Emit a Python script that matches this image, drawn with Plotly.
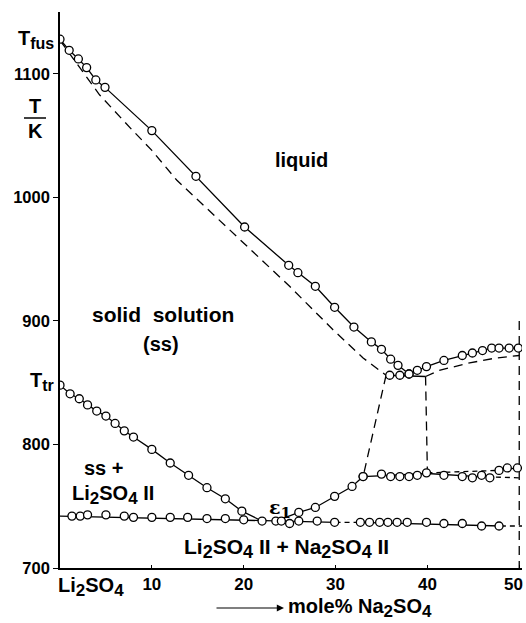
import plotly.graph_objects as go

# ---------------- data (mole% Na2SO4, T/K) ----------------
liq_left_x = [0, 1, 2, 2.9, 3.9, 4.9, 10, 14.8, 20.1, 24.9, 25.9, 27.8, 29.9, 32, 33.9, 35, 36, 36.8, 38]
liq_left_T = [1128, 1119, 1112, 1105, 1095, 1089, 1054, 1017, 976, 945, 939, 928, 911, 895, 883, 877, 869, 864, 857]
liq_right_x = [38, 38.9, 39.9, 41.8, 43.8, 44.9, 46, 47, 47.8, 48.9, 49.9]
liq_right_T = [857, 860, 863, 868, 872, 874, 876, 878, 878, 878, 878]

per_line_x = [35.5, 39.8]
per_line_T = [856, 855]
per_pts_x = [35.9, 37]
per_pts_T = [856, 856]

sol_left_x = [0, 4.3, 7.8, 10, 12.7, 20, 25, 29.7, 33, 35.5]
sol_left_T = [1127, 1083, 1055, 1038, 1014, 963, 928, 893, 870, 856]
sol_right_x = [39.8, 41.3, 44.6, 47.5, 50]
sol_right_T = [855, 860, 866, 870, 872]

conn1_x = [35.5, 33]
conn1_T = [856, 774]
conn2_x = [39.8, 40]
conn2_T = [855, 777]
edge_x = [50, 50]
edge_T = [900, 700]

solv_left_x = [0, 1.1, 2.1, 3, 4, 5, 6, 7, 8, 10, 12, 14, 16, 18, 19.8, 22]
solv_left_T = [848, 841, 837, 832, 827, 823, 817, 811, 806, 796, 785, 775, 765, 756, 746, 738]
solv_right_x = [23.5, 26, 27.8, 29.9, 31.8, 33]
solv_right_T = [738, 745, 749, 758, 766, 774]

eut_pts_x = [1.3, 2.2, 3, 5, 7, 8, 10, 12, 13.9, 16, 18, 20, 24.1, 25, 26, 28, 29.9,
             32.7, 33.7, 34.8, 35.7, 36.7, 37.8, 39.9, 41.8, 43.8, 45.9, 47.8]
eut_pts_T = [742, 742, 743, 743, 742, 741, 741, 741, 741, 740, 740, 739, 738, 736, 738, 738, 737,
             737, 737, 737, 737, 737, 737, 737, 736, 736, 734, 734]
eut_solid1_x = [0, 30]
eut_solid1_T = [742, 737]
eut_dash1_x = [30, 32.7]
eut_dash1_T = [737, 737]
eut_solid2_x = [32.7, 48]
eut_solid2_T = [737, 734]
eut_dash2_x = [48, 50.3]
eut_dash2_T = [734, 734]

tr_pts_x = [33, 35, 36, 37, 38, 38.9, 39.9, 41.8, 43.8, 44.9, 45.9, 46.8, 47.8, 48.7, 49.8]
tr_pts_T = [774, 776, 774, 774, 774, 775, 777, 775, 774, 773, 775, 773, 779, 781, 781]
tr_solid_x = [33, 40, 45.5]
tr_solid_T = [774, 776.5, 774]
tr_dash_low_x = [45.5, 50]
tr_dash_low_T = [774, 773]
tr_dash_up_x = [40, 47.8]
tr_dash_up_T = [777, 779]
tr_solid_up_x = [47.8, 49.8]
tr_solid_up_T = [779, 781]

y_ticks = [700, 800, 900, 1000, 1100]
x_ticks = [10, 20, 30, 40, 50]
x_ticktext = ["10", "20", "30", "40", "50"]

# ---------------- figure ----------------
W, H = 526, 623
ML, MR, MT, MB = 60, 4, 12, 55
PW, PH = W - ML - MR, H - MT - MB


def px(xp):
    return (xp - ML) / PW


def py(yp):
    return (H - MB - yp) / PH


def sub(s, size):
    return "<sub><span style='font-size:%dpx'>%s</span></sub>" % (size, s)


LBL = "Liberation Sans, Arial, sans-serif"
NARROW = "Liberation Sans, Arial, sans-serif"

fig = go.Figure()

LW = 1.3
DASH = "9px,6px"


def line(x, y, dash="solid"):
    fig.add_trace(go.Scatter(x=x, y=y, mode="lines",
                             line=dict(color="black", width=LW, dash=dash),
                             hoverinfo="skip", showlegend=False))


def pts(x, y):
    fig.add_trace(go.Scatter(x=x, y=y, mode="markers",
                             marker=dict(symbol="circle", size=8, color="white",
                                         line=dict(color="black", width=1.3)),
                             hoverinfo="skip", showlegend=False))


line(liq_left_x, liq_left_T)
line(liq_right_x, liq_right_T)
line(per_line_x, per_line_T)
line(sol_left_x, sol_left_T, DASH)
line(sol_right_x, sol_right_T, DASH)
line(conn1_x, conn1_T, DASH)
line(conn2_x, conn2_T, DASH)
line(edge_x, edge_T, DASH)
line(solv_left_x, solv_left_T)
line(solv_right_x, solv_right_T)
line(eut_solid1_x, eut_solid1_T)
line(eut_dash1_x, eut_dash1_T, "5px,4px")
line(eut_solid2_x, eut_solid2_T)
line(eut_dash2_x, eut_dash2_T, "5px,4px")
line(tr_solid_x, tr_solid_T)
line(tr_dash_low_x, tr_dash_low_T, "5px,4px")
line(tr_dash_up_x, tr_dash_up_T, "5px,4px")
line(tr_solid_up_x, tr_solid_up_T)

pts(liq_left_x, liq_left_T)
pts(liq_right_x, liq_right_T)
pts(per_pts_x, per_pts_T)
pts(solv_left_x, solv_left_T)
pts(solv_right_x, solv_right_T)
pts(eut_pts_x, eut_pts_T)
pts(tr_pts_x, tr_pts_T)

ann = []


def label(text, x, y, size=20, xref="x", yref="y", xanchor="center", yanchor="middle", family=LBL):
    ann.append(dict(text=text, x=x, y=y, xref=xref, yref=yref, showarrow=False,
                    xanchor=xanchor, yanchor=yanchor,
                    font=dict(family=family, size=size, color="black", weight="bold")))


# region labels (data coordinates)
label("liquid", 26.3, 1030)
label("solid&nbsp;&nbsp;solution", 11.2, 905, size=21)
label("(ss)", 11.0, 881)
label("ss +", 4.7, 781)
label("Li" + sub("2", 17) + "SO" + sub("4", 17) + " II", 5.8, 759)
label("ε" + sub("1", 15), 24.0, 748, size=19, family="DejaVu Serif, serif")
label("Li" + sub("2", 18) + "SO" + sub("4", 18) + " II + Na" + sub("2", 18) + "SO" + sub("4", 18) + " II",
      24.7, 716, size=21)

# outside labels (paper coordinates)
label("T" + sub("fus", 16), px(56), py(39), size=20, xref="paper", yref="paper", xanchor="right")
label("T" + sub("tr", 16), px(56), py(381), size=20, xref="paper", yref="paper", xanchor="right")
label("T", px(35), py(106), size=20, xref="paper", yref="paper")
label("K", px(35), py(131), size=20, xref="paper", yref="paper")
label("Li" + sub("2", 17) + "SO" + sub("4", 17), px(56), py(587), size=20, xref="paper", yref="paper",
      xanchor="left")
label("mole% Na" + sub("2", 17) + "SO" + sub("4", 17), px(286), py(608), size=20, xref="paper",
      yref="paper", xanchor="left")
# last x tick label sits at the right edge of the page: right-anchored so it stays inside
label(x_ticktext[-1], px(525), py(584), size=17, xref="paper", yref="paper", xanchor="right")

# arrow of the x title
ann.append(dict(x=px(284), y=py(608), xref="paper", yref="paper",
                ax=-69, ay=0, axref="pixel", ayref="pixel",
                showarrow=True, arrowhead=2, arrowsize=1.2, arrowwidth=1.2,
                arrowcolor="black", text=""))

fig.update_layout(
    width=W, height=H,
    margin=dict(l=ML, r=MR, t=MT, b=MB, autoexpand=False),
    paper_bgcolor="white", plot_bgcolor="white",
    annotations=ann,
    shapes=[dict(type="line", xref="paper", yref="paper",
                 x0=px(24), x1=px(46), y0=py(118), y1=py(118),
                 line=dict(color="black", width=1.5))],
    xaxis=dict(range=[0, 50.3], showgrid=False, zeroline=False, automargin=False,
               showline=True, linecolor="black", linewidth=1.6,
               ticks="inside", ticklen=3, tickcolor="black",
               tickvals=x_ticks, ticktext=x_ticktext[:-1] + [""],
               tickfont=dict(family=NARROW, size=17, color="black", weight="bold")),
    yaxis=dict(range=[700, 1150], showgrid=False, zeroline=False, automargin=False,
               showline=True, linecolor="black", linewidth=1.6,
               ticks="outside", ticklen=5, tickcolor="black",
               tickvals=y_ticks, ticklabeloverflow="allow",
               tickfont=dict(family=NARROW, size=16.5, color="black", weight="bold")),
)

fig.write_html("out.html", config={"displayModeBar": False},
               post_script="document.body.style.margin='0px';")
